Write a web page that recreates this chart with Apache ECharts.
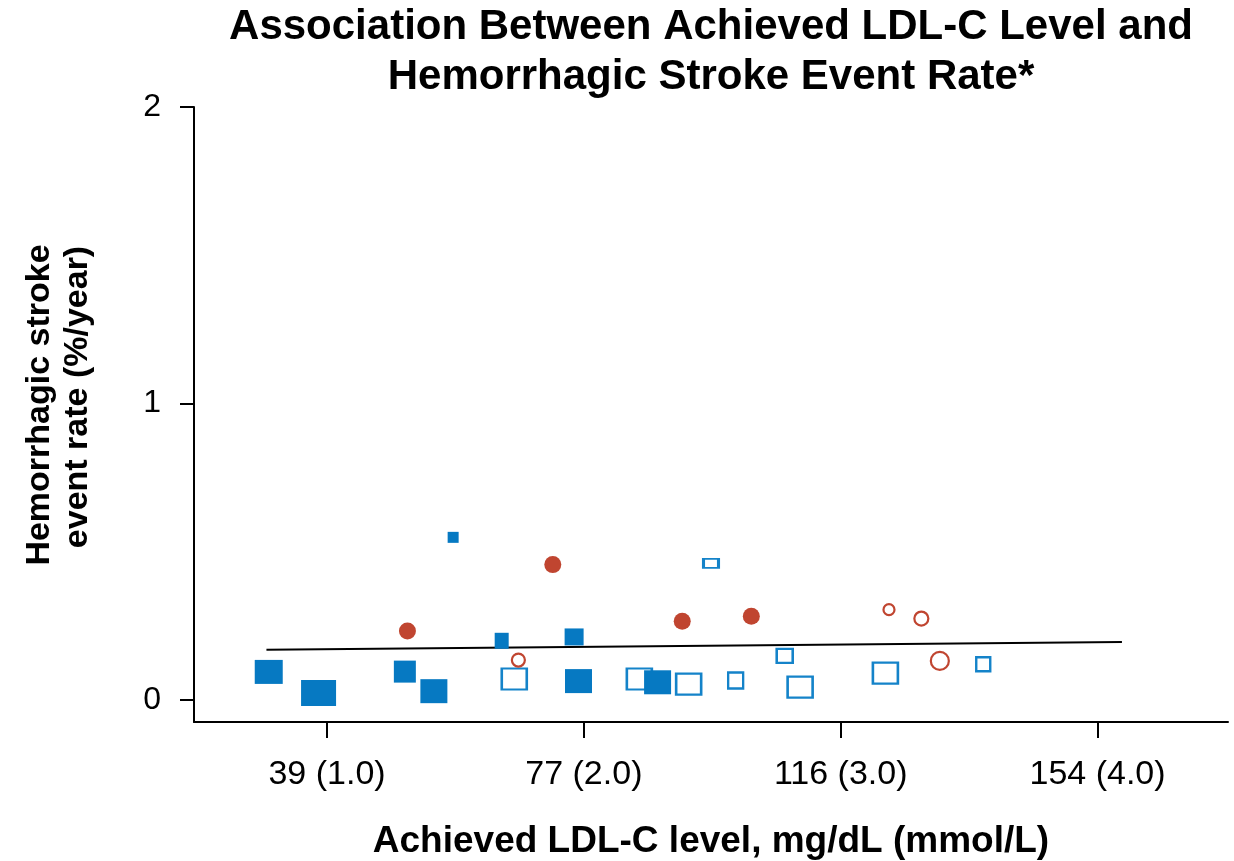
<!DOCTYPE html>
<html>
<head>
<meta charset="utf-8">
<title>Hemorrhagic stroke vs achieved LDL-C</title>
<script src="https://cdn.jsdelivr.net/npm/echarts@6/dist/echarts.min.js"></script>
<style>
  html, body { margin: 0; padding: 0; background: #fff; }
  #chart { width: 1234px; height: 861px; }
</style>
</head>
<body>
<div id="chart"></div>
<script>
// Achieved LDL-C (mmol/L) and hemorrhagic stroke event rate (%/year) per trial arm.
// Marker size reflects arm weight: [width, height] in px.

// Statin trials, more-intensive arm (filled squares)
const statinActiveX = [0.773, 0.967, 1.303, 1.416, 1.491, 1.680, 1.962, 1.979, 2.287];
const statinActiveY = [0.094, 0.023, 0.095, 0.029, 0.548, 0.199, 0.212, 0.063, 0.059];
const statinActiveW = [[28, 24], [35, 26], [22, 22], [27, 24], [11, 11], [14, 16], [19, 17], [27, 24], [27, 24]];

// Statin trials, less-intensive / control arm (open squares)
const statinControlX = [1.729, 2.216, 2.408, 2.495, 2.591, 2.782, 2.842, 3.174, 3.555];
const statinControlY = [0.070, 0.070, 0.053, 0.460, 0.065, 0.148, 0.043, 0.090, 0.120];
const statinControlW = [[25, 21], [25, 21], [25, 21], [15, 9], [15, 16], [16, 14], [25, 21], [25, 21], [14, 14]];

// Non-statin trials, active arm (filled circles)
const nonStatinActiveX = [1.313, 1.879, 2.383, 2.652];
const nonStatinActiveY = [0.232, 0.456, 0.265, 0.282];
const nonStatinActiveW = [17, 17, 17, 17];

// Non-statin trials, control arm (open circles)
const nonStatinControlX = [1.745, 3.188, 3.314, 3.386];
const nonStatinControlY = [0.134, 0.304, 0.274, 0.131];
const nonStatinControlW = [13, 11, 14, 18];

// Meta-regression line endpoints
const fitX = [0.764, 4.095];
const fitY = [0.169, 0.195];

// Axis ticks
const xTickValues = [1, 2, 3, 4];
const xTickLabels = ['39 (1.0)', '77 (2.0)', '116 (3.0)', '154 (4.0)'];
const yTickValues = [0, 1, 2];

const BLUE = '#0679c2';
const RED = '#c04530';
const FONT = '"Liberation Sans", Arial, sans-serif';

function pts(xs, ys, ws) {
  return xs.map((x, i) => ({ value: [x, ys[i]], symbolSize: ws[i] }));
}

const chart = echarts.init(document.getElementById('chart'), null, { renderer: 'canvas' });

chart.setOption({
  animation: false,
  backgroundColor: '#ffffff',
  grid: { left: 194, right: 6, top: 107, bottom: 139, containLabel: false },
  xAxis: {
    type: 'value',
    min: 0.482,
    max: 4.508,
    axisLine: { onZero: false, lineStyle: { color: '#000', width: 2 } },
    axisTick: { show: true, inside: false, length: 16, customValues: xTickValues, lineStyle: { color: '#000', width: 2 } },
    axisLabel: {
      customValues: xTickValues,
      margin: 36,
      color: '#000',
      fontFamily: FONT,
      fontSize: 34,
      formatter: (v) => xTickLabels[xTickValues.indexOf(Math.round(v))] || ''
    },
    splitLine: { show: false }
  },
  yAxis: {
    type: 'value',
    min: -0.075,
    max: 2,
    axisLine: { show: true, onZero: false, lineStyle: { color: '#000', width: 2 } },
    axisTick: { show: true, inside: false, length: 14, customValues: yTickValues, lineStyle: { color: '#000', width: 2 } },
    axisLabel: {
      customValues: yTickValues,
      margin: 33,
      color: '#000',
      fontFamily: FONT,
      fontSize: 32,
      formatter: (v) => String(Math.round(v))
    },
    splitLine: { show: false }
  },
  graphic: [
    {
      type: 'text', x: 711, y: 27,
      style: {
        text: 'Association Between Achieved LDL-C Level and',
        fill: '#000', font: 'bold 42px ' + FONT, textAlign: 'center', textVerticalAlign: 'middle'
      }
    },
    {
      type: 'text', x: 711, y: 77,
      style: {
        text: 'Hemorrhagic Stroke Event Rate*',
        fill: '#000', font: 'bold 42px ' + FONT, textAlign: 'center', textVerticalAlign: 'middle'
      }
    },
    {
      type: 'text', x: 40, y: 405, rotation: Math.PI / 2,
      style: {
        text: 'Hemorrhagic stroke',
        fill: '#000', font: 'bold 34px ' + FONT, textAlign: 'center', textVerticalAlign: 'middle'
      }
    },
    {
      type: 'text', x: 78, y: 397, rotation: Math.PI / 2,
      style: {
        text: 'event rate (%/year)',
        fill: '#000', font: 'bold 34px ' + FONT, textAlign: 'center', textVerticalAlign: 'middle'
      }
    },
    {
      type: 'text', x: 711, y: 842,
      style: {
        text: 'Achieved LDL-C level, mg/dL (mmol/L)',
        fill: '#000', font: 'bold 37px ' + FONT, textAlign: 'center', textVerticalAlign: 'middle'
      }
    }
  ],
  series: [
    {
      name: 'Regression',
      type: 'line',
      data: fitX.map((x, i) => [x, fitY[i]]),
      symbol: 'none',
      lineStyle: { color: '#000', width: 2 },
      z: 1
    },
    {
      name: 'Statin, more intensive',
      type: 'scatter',
      symbol: 'rect',
      data: pts(statinActiveX, statinActiveY, statinActiveW),
      itemStyle: { color: BLUE, opacity: 1 },
      z: 3
    },
    {
      name: 'Statin, less intensive',
      type: 'scatter',
      symbol: 'rect',
      data: pts(statinControlX, statinControlY, statinControlW),
      itemStyle: { color: 'rgba(255,255,255,0)', borderColor: '#1483c9', borderWidth: 2.4, opacity: 1 },
      z: 2
    },
    {
      name: 'Non-statin, active',
      type: 'scatter',
      symbol: 'circle',
      data: pts(nonStatinActiveX, nonStatinActiveY, nonStatinActiveW),
      itemStyle: { color: RED, opacity: 1 },
      z: 3
    },
    {
      name: 'Non-statin, control',
      type: 'scatter',
      symbol: 'circle',
      data: pts(nonStatinControlX, nonStatinControlY, nonStatinControlW),
      itemStyle: { color: 'rgba(255,255,255,0)', borderColor: RED, borderWidth: 2.2, opacity: 1 },
      z: 3
    }
  ]
});
</script>
</body>
</html>
